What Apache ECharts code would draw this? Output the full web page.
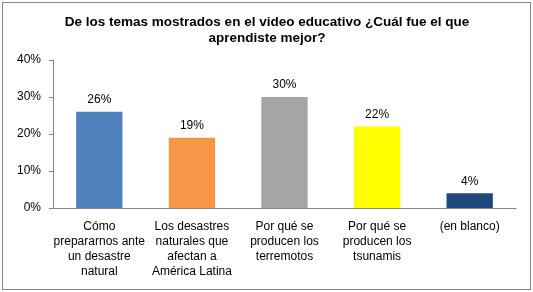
<!DOCTYPE html>
<html>
<head>
<meta charset="utf-8">
<script src="https://cdn.jsdelivr.net/npm/echarts@6/dist/echarts.min.js"></script>
<style>
  html, body { margin: 0; padding: 0; background: #fff; }
  #frame {
    position: absolute; left: 2px; top: 2px;
    width: 527px; height: 286px;
    border: 1px solid #868686;
  }
  #myCharts { position: absolute; left: 0; top: 0; width: 533px; height: 292px; }
</style>
</head>
<body>
<div id="frame"></div>
<div id="myCharts"></div>
<script>
const titleText = "De los temas mostrados en el video educativo ¿Cuál fue el que\naprendiste mejor?";
const categories = [
  "Cómo\nprepararnos ante\nun desastre\nnatural",
  "Los desastres\nnaturales que\nafectan a\nAmérica Latina",
  "Por qué se\nproducen los\nterremotos",
  "Por qué se\nproducen los\ntsunamis",
  "(en blanco)"
];
const values = [26, 19, 30, 22, 4];
const barColors = ["#4F81BD", "#F79646", "#A5A5A5", "#FFFF00", "#1F497D"];
const yTicks = [0, 10, 20, 30, 40];

const font = "Liberation Sans, Arial, sans-serif";

let myChart = echarts.init(document.getElementById("myCharts"));
myChart.setOption({
  animation: false,
  title: {
    text: titleText,
    left: 262,
    top: 9,
    textAlign: "center",
    textStyle: {
      color: "#000",
      fontSize: 13.5,
      fontWeight: "bold",
      fontFamily: font,
      lineHeight: 16
    }
  },
  grid: { left: 53, right: 17, top: 60, bottom: 84, containLabel: false },
  xAxis: {
    type: "category",
    data: categories,
    axisLine: { show: true, lineStyle: { color: "#868686", width: 1 } },
    axisTick: { show: false },
    axisLabel: {
      color: "#000",
      fontSize: 12,
      fontFamily: font,
      lineHeight: 15,
      margin: 11,
      interval: 0
    }
  },
  yAxis: {
    type: "value",
    min: yTicks[0],
    max: yTicks[yTicks.length - 1],
    interval: 10,
    splitLine: { show: false },
    axisLine: { show: true, lineStyle: { color: "#868686", width: 1 } },
    axisTick: { show: true, length: 4, lineStyle: { color: "#868686" } },
    axisLabel: {
      color: "#000",
      fontSize: 12,
      fontFamily: font,
      margin: 12,
      formatter: v => v + "%"
    }
  },
  series: [{
    type: "bar",
    barWidth: "50%",
    data: values.map((v, i) => ({ value: v, itemStyle: { color: barColors[i] } })),
    label: {
      show: true,
      position: "top",
      distance: 6,
      color: "#000",
      fontSize: 12,
      fontFamily: font,
      formatter: p => p.value + "%"
    }
  }]
});
</script>
</body>
</html>
